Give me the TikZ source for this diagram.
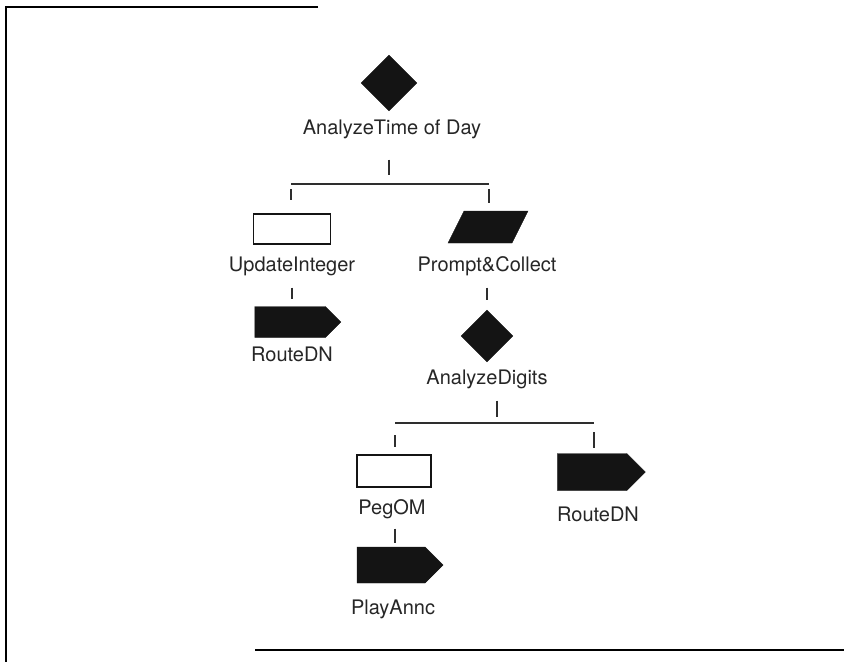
\documentclass[tikz,border=0pt]{standalone}
\usepackage{fontspec}
\setmainfont{TeX Gyre Heros}
\usetikzlibrary{positioning, shapes.geometric, shapes.symbols}
\definecolor{inkblack}{HTML}{141414}
\definecolor{textgray}{HTML}{262626}
\definecolor{linegray}{HTML}{2E2E2E}

\tikzset{
  blk/.style={fill=inkblack, draw=inkblack, inner sep=0pt},
  decide/.style={blk, diamond, aspect=1, minimum width=#1, minimum height=#1},
  jump/.style={blk, signal, signal to=east, signal pointer angle=90},
  plainbox/.style={draw=inkblack, line width=1.3pt, fill=white, inner sep=0pt},
  prompt/.style={blk, rectangle, xslant=0.5, transform shape},
  lbl/.style={font=\fontsize{20}{22}\selectfont, text=textgray, anchor=base, inner sep=1pt},
  link/.style={draw=linegray, line width=1.1pt},
  frame/.style={draw=black, line width=1.4pt},
}

\begin{document}
\begin{tikzpicture}[x=1pt, y=-1pt]
  \useasboundingbox (0,0) rectangle (844,662);

  %% scanned frame
  \draw[frame] (318,7) -- (6,7) -- (6,662);
  \draw[frame] (255,650) -- (844,650);

  %% top decision
  \node[decide=56pt] (tod) at (389,83) {};
  \node[lbl] (todlbl) at (392,134) {AnalyzeTime of Day};

  %% first level
  \node[plainbox, minimum width=77pt, minimum height=30pt] (upd) at (292,229) {};
  \node[lbl] (updlbl) at (292,271) {UpdateInteger};
  \node[prompt, minimum width=64pt, minimum height=32pt] (pc) at (488,227) {};
  \node[lbl] (pclbl) at (487,271) {Prompt\&Collect};

  %% second level
  \node[jump, minimum width=86pt, minimum height=31pt] (rdnA) at (290,322) {};
  \node[lbl] (rdnAlbl) at (292,361) {RouteDN};
  \node[decide=52pt] (dig) at (487,336) {};
  \node[lbl] (diglbl) at (487,384) {AnalyzeDigits};

  %% third level
  \node[plainbox, minimum width=74pt, minimum height=32pt] (peg) at (394,471) {};
  \node[lbl] (peglbl) at (392,514) {PegOM};
  \node[jump, minimum width=88pt, minimum height=37pt] (rdnB) at (592,472) {};
  \node[lbl] (rdnBlbl) at (598,521) {RouteDN};
  \node[jump, minimum width=86pt, minimum height=36pt] (ann) at (391,565) {};
  \node[lbl] (annlbl) at (393,614) {PlayAnnc};

  %% tree links
  \coordinate (barAl) at (291,184);
  \coordinate (barAr) at (489,184);
  \coordinate (barBl) at (395,423);
  \coordinate (barBr) at (594,423);
  \draw[link] (barAl) -- (barAr);
  \draw[link] (barBl) -- (barBr);
  \draw[link, shorten <=20pt, shorten >=9pt] (todlbl.south -| tod) -- (tod |- barAl);
  \draw[link, shorten <=5pt, shorten >=13pt] (barAl) -- (barAl |- upd.north);
  \draw[link, shorten <=5pt, shorten >=8pt] (barAr) -- (barAr |- pc.north);
  \draw[link, shorten <=11pt, shorten >=7pt] (updlbl.south) -- (updlbl.south |- rdnA.north);
  \draw[link, shorten <=11pt, shorten >=10pt] (pclbl.south) -- (pclbl.south |- dig.north);
  \draw[link, shorten <=11pt, shorten >=6pt] (diglbl.south -| 497,0) -- (barBl -| 497,0);
  \draw[link, shorten <=12pt, shorten >=7pt] (barBl) -- (barBl |- peg.north);
  \draw[link, shorten <=9pt, shorten >=5pt] (barBr) -- (barBr |- rdnB.north);
  \draw[link, shorten <=9pt, shorten >=4pt] (peglbl.south -| barBl) -- (barBl |- ann.north);

\end{tikzpicture}
\end{document}
